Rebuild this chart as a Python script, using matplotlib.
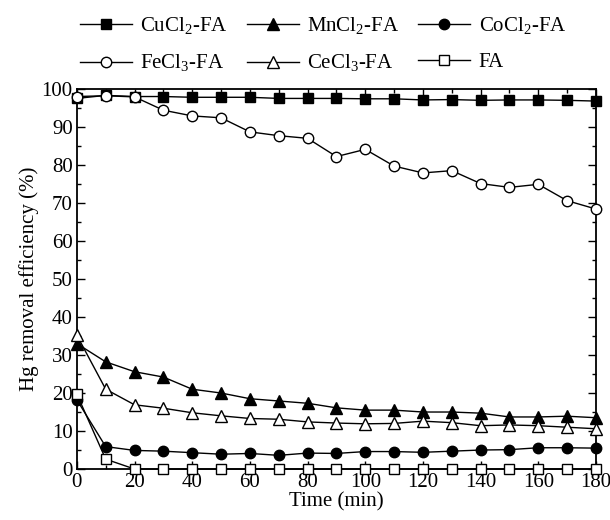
import matplotlib
matplotlib.use("Agg")
import matplotlib.pyplot as plt
from matplotlib.ticker import MultipleLocator

plt.rcParams['font.family'] = ['Liberation Serif', 'DejaVu Serif']
plt.rcParams['mathtext.fontset'] = 'custom'
plt.rcParams['mathtext.rm'] = 'Liberation Serif'

time = list(range(0, 181, 10))
cucl2 = [97.5, 98.3, 98.0, 98.0, 97.8, 97.8, 97.8, 97.5, 97.5, 97.5, 97.4, 97.4, 97.1, 97.2, 97.0, 97.1, 97.1, 97.0, 96.8]
fecl3 = [98.0, 98.2, 97.9, 94.4, 92.9, 92.4, 88.7, 87.7, 87.0, 82.2, 84.1, 79.7, 77.9, 78.5, 75.1, 74.1, 74.9, 70.6, 68.4]
mncl2 = [33.0, 28.2, 25.6, 24.2, 21.0, 20.0, 18.5, 17.9, 17.3, 16.1, 15.5, 15.5, 15.0, 15.0, 14.7, 13.7, 13.7, 13.9, 13.5]
cecl3 = [35.2, 21.0, 16.9, 16.0, 14.8, 14.0, 13.3, 13.1, 12.4, 12.1, 11.9, 12.0, 12.6, 12.2, 11.4, 11.6, 11.4, 11.0, 10.6]
cocl2 = [18.2, 5.9, 4.9, 4.7, 4.3, 3.9, 4.1, 3.6, 4.2, 4.1, 4.6, 4.6, 4.4, 4.7, 5.0, 5.1, 5.6, 5.6, 5.5]
fa = [19.7, 2.6, 0, 0, 0, 0, 0, 0, 0, 0, 0, 0, 0, 0, 0, 0, 0, 0, 0]

labels = [r'CuCl$_2$-FA', r'MnCl$_2$-FA', r'CoCl$_2$-FA', r'FeCl$_3$-FA', r'CeCl$_3$-FA', 'FA']

fig = plt.figure(figsize=(6.1, 5.2), dpi=100)
ax = fig.add_axes([0.126, 0.098, 0.851, 0.731])

base = dict(color='black', lw=1.0, markeredgecolor='black', markeredgewidth=1.0, clip_on=False, zorder=3)
h_cu, = ax.plot(time, cucl2, marker='s', markerfacecolor='black', markersize=7, **base)
h_fe, = ax.plot(time, fecl3, marker='o', markerfacecolor='white', markersize=7.5, **base)
h_mn, = ax.plot(time, mncl2, marker='^', markerfacecolor='black', markersize=8, **base)
h_ce, = ax.plot(time, cecl3, marker='^', markerfacecolor='white', markersize=8, **base)
h_co, = ax.plot(time, cocl2, marker='o', markerfacecolor='black', markersize=7.5, **base)
h_fa, = ax.plot(time, fa, marker='s', markerfacecolor='white', markersize=7, **base)

ax.set_xlim(0, 180)
ax.set_ylim(0, 100)
ax.xaxis.set_major_locator(MultipleLocator(20))
ax.xaxis.set_minor_locator(MultipleLocator(10))
ax.yaxis.set_major_locator(MultipleLocator(10))
ax.yaxis.set_minor_locator(MultipleLocator(5))
ax.tick_params(which='both', direction='in', top=True, right=True, labelsize=15, width=1.0)
ax.tick_params(which='major', length=6, pad=3)
ax.tick_params(which='minor', length=3)
for s in ax.spines.values():
    s.set_linewidth(1.3)
ax.set_xlabel('Time (min)', fontsize=15, labelpad=0)
ax.set_ylabel('Hg removal efficiency (%)', fontsize=15, labelpad=2)

handles = [h_cu, h_fe, h_mn, h_ce, h_co, h_fa]
leg_labels = [labels[0], labels[3], labels[1], labels[4], labels[2], labels[5]]
fig.legend(handles, leg_labels, ncol=3, loc='upper left', bbox_to_anchor=(0.131, 0.97),
           frameon=False, fontsize=15, handlelength=2.5, columnspacing=0.9,
           handletextpad=0.4, labelspacing=0.75, borderpad=0, borderaxespad=0)

fig.savefig('out.png', dpi=100)
